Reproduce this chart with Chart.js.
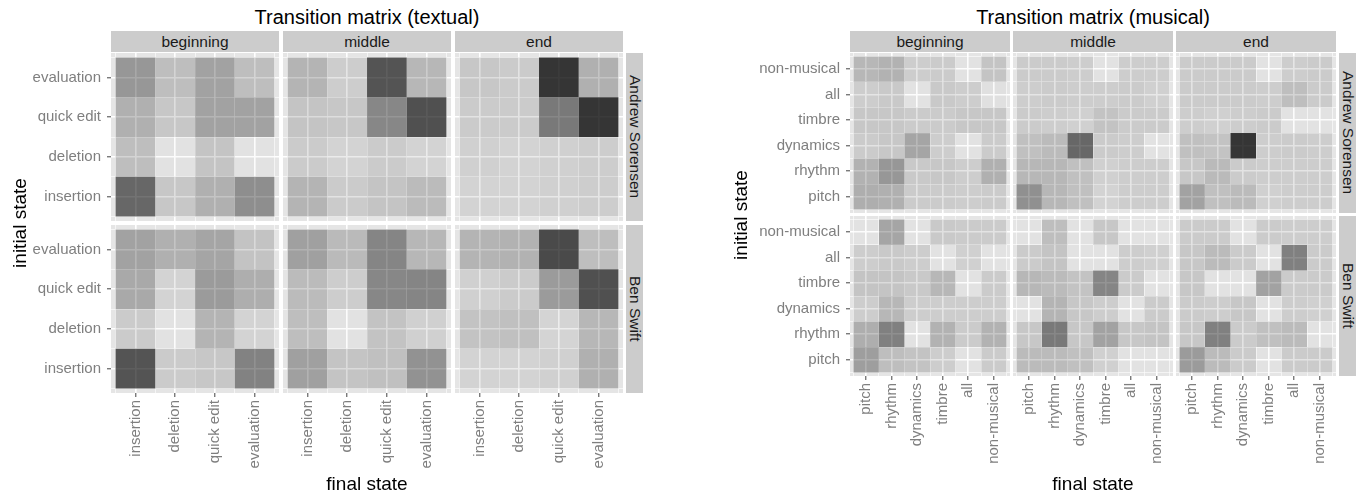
<!DOCTYPE html>
<html>
<head>
<meta charset="utf-8">
<script src="https://cdn.jsdelivr.net/npm/chart.js@4.4.1/dist/chart.umd.min.js"></script>
<style>
  body { margin: 0; background: #fff; font-family: "Liberation Sans", Arial, sans-serif; }
  #page { position: relative; width: 1363px; height: 497px; overflow: hidden; }
  #page div { position: absolute; }
  .title { font-size: 20px; color: #000; text-align: center; width: 600px; line-height: 24px; }
  .strip { background: #CCCCCC; color: #1A1A1A; font-size: 15.5px; display: flex; align-items: center; justify-content: center; }
  .side { writing-mode: vertical-rl; }
  .axtitle { font-size: 19px; text-align: center; width: 200px; height: 22px; line-height: 22px; }
  canvas { position: absolute; }
</style>
</head>
<body>
<div id="page"></div>
<script>
const textStates = ["insertion", "deletion", "quick edit", "evaluation"];
const musicStates = ["pitch", "rhythm", "dynamics", "timbre", "all", "non-musical"];
const phases = ["beginning", "middle", "end"];
const people = ["Andrew Sorensen", "Ben Swift"];

// rows = initial state (same order as the state list), columns = final state
const textAndrewBeginning = [
  [0.55, 0.13, 0.23, 0.38],
  [0.17, 0.01, 0.14, 0.01],
  [0.23, 0.13, 0.29, 0.29],
  [0.34, 0.17, 0.29, 0.17]
];
const textAndrewMiddle = [
  [0.21, 0.11, 0.14, 0.18],
  [0.11, 0.08, 0.11, 0.08],
  [0.14, 0.13, 0.41, 0.65],
  [0.21, 0.10, 0.63, 0.20]
];
const textAndrewEnd = [
  [0.08, 0.08, 0.09, 0.10],
  [0.09, 0.08, 0.09, 0.10],
  [0.11, 0.11, 0.47, 0.77],
  [0.13, 0.11, 0.77, 0.23]
];
const textBenBeginning = [
  [0.63, 0.11, 0.13, 0.43],
  [0.11, 0.01, 0.21, 0.08],
  [0.26, 0.08, 0.32, 0.24],
  [0.29, 0.23, 0.28, 0.15]
];
const textBenMiddle = [
  [0.30, 0.14, 0.16, 0.36],
  [0.17, 0.01, 0.15, 0.09],
  [0.18, 0.10, 0.41, 0.42],
  [0.30, 0.19, 0.42, 0.20]
];
const textBenEnd = [
  [0.08, 0.08, 0.09, 0.23],
  [0.15, 0.16, 0.07, 0.20],
  [0.09, 0.11, 0.32, 0.65],
  [0.21, 0.22, 0.68, 0.17]
];

const musicAndrewBeginning = [
  [0.24, 0.23, 0.11, 0.11, 0.10, 0.11],
  [0.22, 0.34, 0.12, 0.13, 0.10, 0.23],
  [0.11, 0.13, 0.28, 0.10, 0.01, 0.11],
  [0.13, 0.13, 0.11, 0.11, 0.13, 0.13],
  [0.10, 0.12, 0.01, 0.12, 0.10, 0.02],
  [0.20, 0.22, 0.10, 0.11, 0.01, 0.14]
];
const musicAndrewMiddle = [
  [0.37, 0.20, 0.16, 0.08, 0.10, 0.10],
  [0.20, 0.20, 0.16, 0.09, 0.10, 0.10],
  [0.16, 0.18, 0.55, 0.11, 0.10, 0.01],
  [0.11, 0.10, 0.09, 0.15, 0.11, 0.11],
  [0.10, 0.11, 0.10, 0.10, 0.11, 0.09],
  [0.11, 0.11, 0.10, 0.01, 0.10, 0.10]
];
const musicAndrewEnd = [
  [0.29, 0.16, 0.18, 0.09, 0.10, 0.10],
  [0.13, 0.19, 0.11, 0.10, 0.10, 0.10],
  [0.16, 0.15, 0.77, 0.10, 0.11, 0.10],
  [0.10, 0.09, 0.10, 0.11, 0.01, 0.01],
  [0.11, 0.11, 0.11, 0.10, 0.17, 0.11],
  [0.11, 0.11, 0.11, 0.01, 0.10, 0.11]
];
const musicBenBeginning = [
  [0.31, 0.17, 0.15, 0.10, 0.01, 0.11],
  [0.24, 0.44, 0.01, 0.22, 0.11, 0.22],
  [0.10, 0.20, 0.10, 0.10, 0.10, 0.10],
  [0.14, 0.14, 0.12, 0.20, 0.01, 0.11],
  [0.10, 0.12, 0.10, 0.01, 0.09, 0.01],
  [0.01, 0.28, 0.01, 0.12, 0.11, 0.11]
];
const musicBenMiddle = [
  [0.18, 0.18, 0.16, 0.09, 0.01, 0.01],
  [0.13, 0.47, 0.13, 0.29, 0.13, 0.14],
  [0.01, 0.21, 0.13, 0.10, 0.01, 0.11],
  [0.20, 0.18, 0.15, 0.42, 0.11, 0.01],
  [0.11, 0.14, 0.01, 0.01, 0.10, 0.09],
  [0.01, 0.17, 0.01, 0.13, 0.01, 0.01]
];
const musicBenEnd = [
  [0.32, 0.18, 0.11, 0.01, 0.11, 0.11],
  [0.13, 0.44, 0.11, 0.16, 0.18, 0.01],
  [0.11, 0.10, 0.13, 0.01, 0.10, 0.09],
  [0.13, 0.01, 0.01, 0.29, 0.11, 0.11],
  [0.13, 0.18, 0.11, 0.01, 0.44, 0.11],
  [0.11, 0.11, 0.01, 0.11, 0.10, 0.10]
];

const textual = [
  [textAndrewBeginning, textAndrewMiddle, textAndrewEnd],
  [textBenBeginning, textBenMiddle, textBenEnd]
];
const musical = [
  [musicAndrewBeginning, musicAndrewMiddle, musicAndrewEnd],
  [musicBenBeginning, musicBenMiddle, musicBenEnd]
];

Chart.defaults.font.family = '"Liberation Sans", Arial, sans-serif';

const page = document.getElementById("page");

const panelBg = {
  id: "panelBg",
  beforeDraw(chart) {
    const a = chart.chartArea;
    const ctx = chart.ctx;
    ctx.save();
    ctx.fillStyle = "#E5E5E5";
    ctx.fillRect(a.left, a.top, a.width, a.height);
    ctx.restore();
  }
};

function addDiv(cls, text, left, top, width, height, extra) {
  const d = document.createElement("div");
  d.className = cls;
  d.textContent = text;
  d.style.left = left + "px";
  d.style.top = top + "px";
  if (width) d.style.width = width + "px";
  if (height) d.style.height = height + "px";
  if (extra) Object.assign(d.style, extra);
  page.appendChild(d);
  return d;
}

const isMajor = c => c.tick && Number.isInteger(c.tick.value);

function facet(lay, states, values, col, row) {
  const showY = col === 0;
  const showX = row === 1;
  const n = states.length;
  const m = lay.margin;
  const tickVals = [];
  for (let v = -0.5; v <= n - 0.5; v += 0.5) tickVals.push(v);

  const cv = document.createElement("canvas");
  const w = lay.w + (showY ? lay.yw : 0);
  const h = lay.h + (showX ? lay.xh : 0);
  cv.width = w;
  cv.height = h;
  cv.style.left = (lay.cols[col] - (showY ? lay.yw : 0)) + "px";
  cv.style.top = lay.rows[row] + "px";
  cv.style.width = w + "px";
  cv.style.height = h + "px";
  page.appendChild(cv);

  // ticks sit every half unit (for the cell-edge lines), so the bar ruler sees
  // a 0.5 spacing: percentage 2 makes each tile one full unit wide
  const datasets = values.map((vals, r) => ({
    data: states.map((s, c) => ({x: c, y: [r - 0.5, r + 0.5]})),
    backgroundColor: vals.map(v => "rgba(0,0,0," + v + ")"),
    borderWidth: 0,
    inflateAmount: 0,
    barPercentage: 1,
    categoryPercentage: 2,
    grouped: false
  }));

  const noPad = s => { s.paddingTop = 0; s.paddingBottom = 0; s.paddingLeft = 0; s.paddingRight = 0; };

  const axis = (show, fit, extraTicks) => ({
    type: "linear",
    min: -m,
    max: n - 1 + m,
    bounds: "data",
    offset: false,
    afterBuildTicks: s => { s.ticks = tickVals.map(v => ({value: v})); },
    afterFit: s => { fit(s); noPad(s); },
    border: {display: false},
    grid: {
      offset: false,
      color: "#FFFFFF",
      lineWidth: c => isMajor(c) ? 1.6 : 0.6,
      drawTicks: show,
      tickLength: 4,
      tickWidth: 1,
      tickColor: c => isMajor(c) ? "#444444" : "rgba(0,0,0,0)"
    },
    ticks: Object.assign({
      display: show,
      autoSkip: false,
      color: "#7F7F7F",
      font: {size: 15},
      callback: v => Number.isInteger(v) ? states[v] : ""
    }, extraTicks)
  });

  new Chart(cv, {
    type: "bar",
    data: {datasets: datasets},
    options: {
      responsive: false,
      animation: false,
      events: [],
      layout: {padding: 0},
      plugins: {legend: {display: false}, tooltip: {enabled: false}},
      scales: {
        x: axis(showX, s => { s.height = showX ? lay.xh : 0; }, {maxRotation: 90, minRotation: 90, padding: 3}),
        y: axis(showY, s => { s.width = showY ? lay.yw : 0; }, {padding: 6})
      }
    },
    plugins: [panelBg]
  });
}

function panel(lay, titleText, states, matrices) {
  const left = lay.cols[0];
  const right = lay.cols[2] + lay.w;
  const mid = (left + right) / 2;
  addDiv("title", titleText, mid - 300, 5);
  phases.forEach((p, c) => addDiv("strip", p, lay.cols[c], 31, lay.w, 21));
  people.forEach((p, r) => addDiv("strip side", p, lay.sideX, lay.rows[r], 17, lay.h));
  matrices.forEach((rowMats, r) => rowMats.forEach((mat, c) => facet(lay, states, mat, c, r)));
  addDiv("axtitle", "final state", mid - 100, 473);
  const yMid = (lay.rows[0] + lay.rows[1] + lay.h) / 2;
  addDiv("axtitle", "initial state", lay.yTitleX - 100, yMid - 11, 0, 0, {transform: "rotate(-90deg)"});
}

const leftLayout = {cols: [111, 283, 455], rows: [53, 225], w: 168, h: 168, margin: 0.615, yw: 84, xh: 100, sideX: 626, yTitleX: 20};
const rightLayout = {cols: [850, 1013, 1176], rows: [53, 216], w: 160, h: 160, margin: 0.635, yw: 104, xh: 100, sideX: 1339, yTitleX: 741};

panel(leftLayout, "Transition matrix (textual)", textStates, textual);
panel(rightLayout, "Transition matrix (musical)", musicStates, musical);
</script>
</body>
</html>
